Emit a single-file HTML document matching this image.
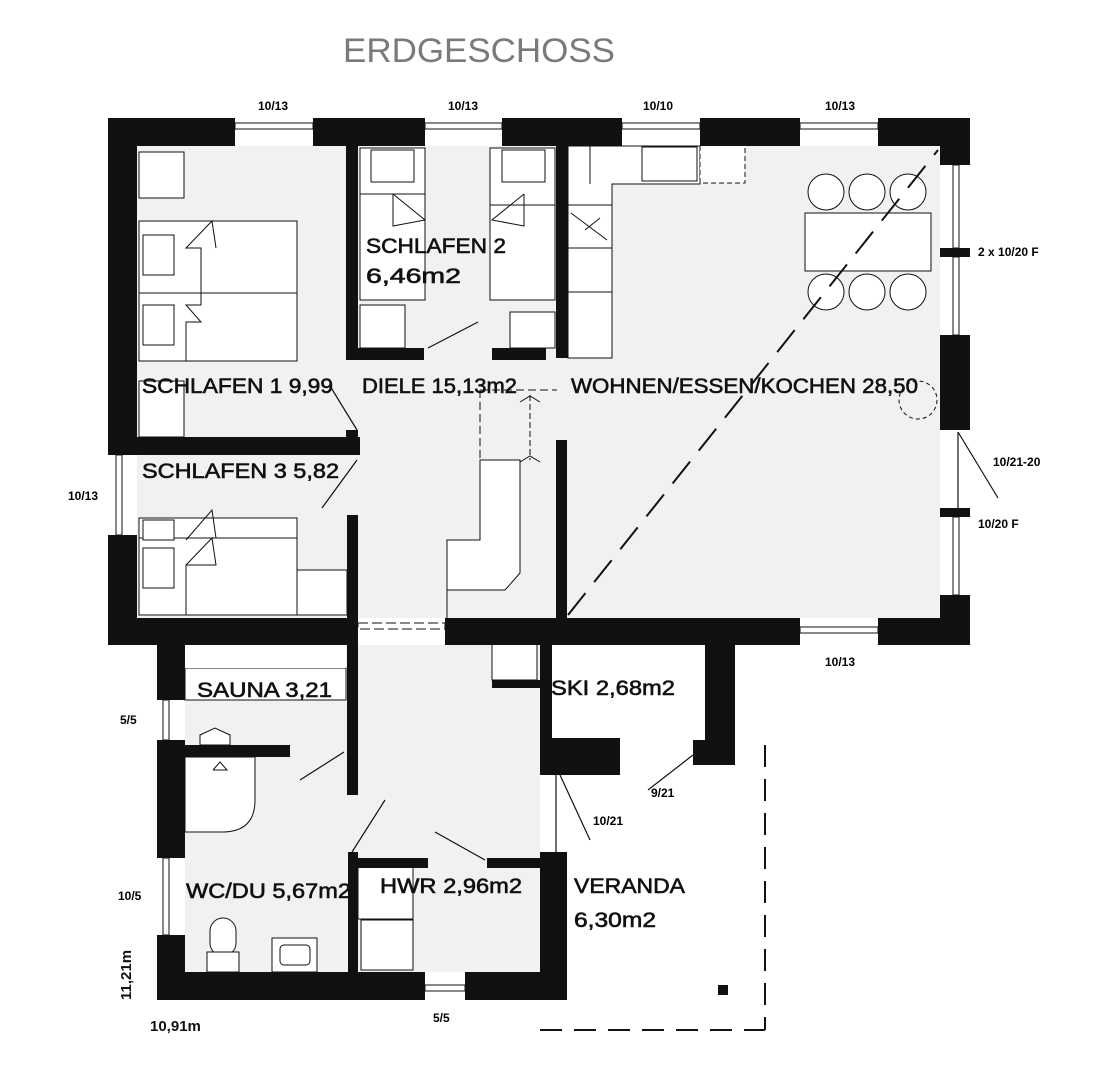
<!DOCTYPE html>
<html><head><meta charset="utf-8"><style>
html,body{margin:0;padding:0;background:#fff;}
svg{display:block}
text{font-family:"Liberation Sans",sans-serif;fill:#111}
.r{font-size:21px;stroke:#111;stroke-width:0.6}
.d{font-size:12px;font-weight:bold;fill:#000}
</style></head><body>
<svg width="1108" height="1076" viewBox="0 0 1108 1076" xmlns="http://www.w3.org/2000/svg">
<rect width="1108" height="1076" fill="#fff"/>
<text x="343" y="62" font-size="34" style="fill:#7a7a7a" textLength="272" lengthAdjust="spacingAndGlyphs">ERDGESCHOSS</text>

<g fill="#f1f1f1">
<rect x="137" y="146" width="803" height="472"/>
<rect x="185" y="645" width="355" height="327"/>
</g>

<g fill="#fff" stroke="#111" stroke-width="1">
<rect x="139" y="152" width="45" height="46"/>
<rect x="139" y="221" width="158" height="140"/>
<line x1="139" y1="293" x2="297" y2="293"/>
<rect x="143" y="235" width="31" height="40"/>
<rect x="143" y="305" width="31" height="40"/>
<polyline points="186,361 186,322 201,322 186,305 201,305 201,248 186,248 212,221 216,248" fill="none"/>
<rect x="139" y="381" width="45" height="56" fill="#fff"/>
<rect x="360" y="148" width="65" height="152"/>
<rect x="371" y="150" width="43" height="32"/>
<line x1="360" y1="194" x2="425" y2="194"/>
<polyline points="393,194 393,226 425,220 393,194" fill="none"/>
<rect x="360" y="305" width="45" height="43"/>
<rect x="490" y="148" width="65" height="152"/>
<rect x="502" y="150" width="43" height="32"/>
<line x1="490" y1="205" x2="555" y2="205"/>
<polyline points="524,194 524,226 492,220 524,194" fill="none"/>
<rect x="510" y="312" width="45" height="36"/>
<rect x="139" y="518" width="158" height="97"/>
<line x1="139" y1="538" x2="297" y2="538"/>
<rect x="143" y="520" width="31" height="20"/>
<rect x="143" y="548" width="31" height="40"/>
<polyline points="186,615 186,565 216,565 212,538 186,565" fill="none"/>
<polyline points="186,540 212,510 216,538" fill="none"/>
<rect x="297" y="570" width="50" height="45"/>
<polygon points="568,146 700,146 700,184 612,184 612,358 568,358"/>
<line x1="568" y1="205" x2="612" y2="205"/><line x1="568" y1="248" x2="612" y2="248"/><line x1="568" y1="292" x2="612" y2="292"/>
<line x1="590" y1="146" x2="590" y2="184"/>
<line x1="571" y1="213" x2="607" y2="240"/><line x1="585" y1="230" x2="600" y2="218"/>
<rect x="642" y="147" width="55" height="34"/>
<rect x="700" y="145" width="45" height="38" stroke-dasharray="5,3"/>
<rect x="805" y="213" width="126" height="58"/>
<circle cx="826" cy="192" r="18"/><circle cx="867" cy="192" r="18"/><circle cx="908" cy="192" r="18"/>
<circle cx="826" cy="292" r="18"/><circle cx="867" cy="292" r="18"/><circle cx="908" cy="292" r="18"/>
<circle cx="918" cy="400" r="19" stroke-dasharray="4,3" fill="none"/>
<polygon points="447,618 447,540 480,540 480,460 520,460 520,573 505,590 447,590" />
<line x1="480" y1="390" x2="480" y2="460" stroke-dasharray="8,4"/>
<line x1="480" y1="390" x2="557" y2="390" stroke-dasharray="8,4"/>
<line x1="530" y1="395" x2="530" y2="460" stroke-dasharray="6,3"/>
<polyline points="520,402 530,396 540,402" fill="none"/>
<polyline points="520,462 530,456 540,462" fill="none"/>
<rect x="185" y="668" width="161" height="32"/>
<rect x="185" y="645" width="161" height="23" stroke="none"/>
<polygon points="200,745 200,735 215,728 230,735 230,745"/>
<path d="M185 757 L255 757 L255 800 Q255 832 222 832 L185 832 Z"/>
<polyline points="213,770 220,762 227,770 213,770" fill="none"/>
<rect x="210" y="918" width="26" height="38" rx="13"/>
<rect x="207" y="952" width="32" height="20"/>
<rect x="272" y="938" width="45" height="34"/>
<rect x="280" y="945" width="30" height="20" rx="4"/>
<rect x="358" y="867" width="55" height="52"/>
<rect x="361" y="920" width="52" height="50"/>
<rect x="492" y="628" width="45" height="52"/>
</g>

<g fill="#111">
<rect x="108" y="118" width="127" height="28"/>
<rect x="313" y="118" width="112" height="28"/>
<rect x="502" y="118" width="120" height="28"/>
<rect x="700" y="118" width="100" height="28"/>
<rect x="878" y="118" width="92" height="28"/>
<rect x="940" y="118" width="30" height="47"/>
<rect x="940" y="248" width="30" height="9"/>
<rect x="940" y="335" width="30" height="95"/>
<rect x="940" y="508" width="30" height="9"/>
<rect x="940" y="595" width="30" height="50"/>
<rect x="878" y="618" width="92" height="27"/>
<rect x="445" y="618" width="355" height="27"/>
<rect x="108" y="618" width="250" height="27"/>
<rect x="108" y="118" width="29" height="337"/>
<rect x="108" y="535" width="29" height="110"/>
<rect x="157" y="618" width="28" height="82"/>
<rect x="137" y="437" width="223" height="18"/>
<rect x="346" y="146" width="12" height="214"/>
<rect x="346" y="348" width="78" height="12"/>
<rect x="492" y="348" width="54" height="12"/>
<rect x="556" y="146" width="12" height="212"/>
<rect x="556" y="440" width="11" height="178"/>
<rect x="346" y="430" width="12" height="25"/>
<rect x="347" y="515" width="11" height="280"/>
<rect x="157" y="740" width="28" height="118"/>
<rect x="185" y="745" width="105" height="12"/>
<rect x="157" y="935" width="28" height="65"/>
<rect x="157" y="972" width="268" height="28"/>
<rect x="465" y="972" width="102" height="28"/>
<rect x="540" y="852" width="27" height="148"/>
<rect x="348" y="852" width="10" height="120"/>
<rect x="358" y="858" width="70" height="10"/>
<rect x="487" y="858" width="53" height="10"/>
<rect x="540" y="630" width="12" height="145"/>
<rect x="492" y="680" width="48" height="8"/>
<rect x="540" y="738" width="80" height="37"/>
<rect x="705" y="630" width="30" height="135"/>
<rect x="693" y="740" width="42" height="25"/>
<rect x="718" y="985" width="10" height="10"/>
</g>

<g fill="#fff" stroke="#111" stroke-width="1">
<rect x="235" y="123" width="78" height="6"/>
<rect x="425" y="123" width="77" height="6"/>
<rect x="622" y="123" width="78" height="6"/>
<rect x="800" y="123" width="78" height="6"/>
<rect x="800" y="627" width="78" height="6"/>
<rect x="953" y="165" width="6" height="83"/>
<rect x="953" y="257" width="6" height="78"/>
<rect x="953" y="517" width="6" height="78"/>
<rect x="116" y="455" width="6" height="80"/>
<rect x="163" y="700" width="6" height="40"/>
<rect x="163" y="858" width="6" height="77"/>
<rect x="425" y="985" width="40" height="6"/>
<rect x="358" y="623" width="87" height="6" stroke-dasharray="10,4"/>
</g>

<g stroke="#111" stroke-width="1.2" fill="none">
<line x1="958" y1="432" x2="958" y2="508"/>
<line x1="958" y1="432" x2="998" y2="498"/>
<line x1="428" y1="348" x2="478" y2="322"/>
<line x1="357" y1="430" x2="330" y2="386"/>
<line x1="357" y1="460" x2="322" y2="508"/>
<line x1="344" y1="752" x2="300" y2="780"/>
<line x1="352" y1="852" x2="385" y2="800"/>
<line x1="485" y1="860" x2="435" y2="832"/>
<line x1="556" y1="775" x2="556" y2="852"/>
<line x1="560" y1="775" x2="590" y2="840"/>
<line x1="693" y1="755" x2="648" y2="790"/>
<line x1="765" y1="745" x2="765" y2="1030" stroke-width="2" stroke-dasharray="22,12"/>
<line x1="540" y1="1030" x2="765" y2="1030" stroke-width="2" stroke-dasharray="22,12"/>
<line x1="568" y1="615" x2="938" y2="150" stroke-width="2" stroke-dasharray="28,14"/>
</g>

<text class="r" x="366" y="253" textLength="140" lengthAdjust="spacingAndGlyphs">SCHLAFEN 2</text>
<text class="r" x="366" y="283" textLength="95" lengthAdjust="spacingAndGlyphs">6,46m2</text>
<text class="r" x="142" y="393" textLength="191" lengthAdjust="spacingAndGlyphs">SCHLAFEN 1 9,99</text>
<text class="r" x="362" y="393" textLength="155" lengthAdjust="spacingAndGlyphs">DIELE 15,13m2</text>
<text class="r" x="571" y="393" textLength="347" lengthAdjust="spacingAndGlyphs">WOHNEN/ESSEN/KOCHEN 28,50</text>
<text class="r" x="142" y="478" textLength="197" lengthAdjust="spacingAndGlyphs">SCHLAFEN 3 5,82</text>
<text class="r" x="197" y="697" textLength="135" lengthAdjust="spacingAndGlyphs">SAUNA 3,21</text>
<text class="r" x="551" y="695" textLength="124" lengthAdjust="spacingAndGlyphs">SKI 2,68m2</text>
<text class="r" x="186" y="898" textLength="165" lengthAdjust="spacingAndGlyphs">WC/DU 5,67m2</text>
<text class="r" x="380" y="893" textLength="142" lengthAdjust="spacingAndGlyphs">HWR 2,96m2</text>
<text class="r" x="574" y="893" textLength="111" lengthAdjust="spacingAndGlyphs">VERANDA</text>
<text class="r" x="574" y="927" textLength="82" lengthAdjust="spacingAndGlyphs">6,30m2</text>

<text class="d" x="258" y="110">10/13</text>
<text class="d" x="448" y="110">10/13</text>
<text class="d" x="643" y="110">10/10</text>
<text class="d" x="825" y="110">10/13</text>
<text class="d" x="978" y="256">2 x 10/20 F</text>
<text class="d" x="993" y="466">10/21-20</text>
<text class="d" x="978" y="528">10/20 F</text>
<text class="d" x="825" y="666">10/13</text>
<text class="d" x="68" y="500">10/13</text>
<text class="d" x="120" y="724">5/5</text>
<text class="d" x="118" y="900">10/5</text>
<text class="d" x="651" y="797">9/21</text>
<text class="d" x="593" y="825">10/21</text>
<text class="d" x="433" y="1022">5/5</text>
<text font-size="15" font-weight="bold" x="150" y="1031">10,91m</text>
<text font-size="15" font-weight="bold" transform="translate(131 1000) rotate(-90)">11,21m</text>
</svg>
</body></html>
